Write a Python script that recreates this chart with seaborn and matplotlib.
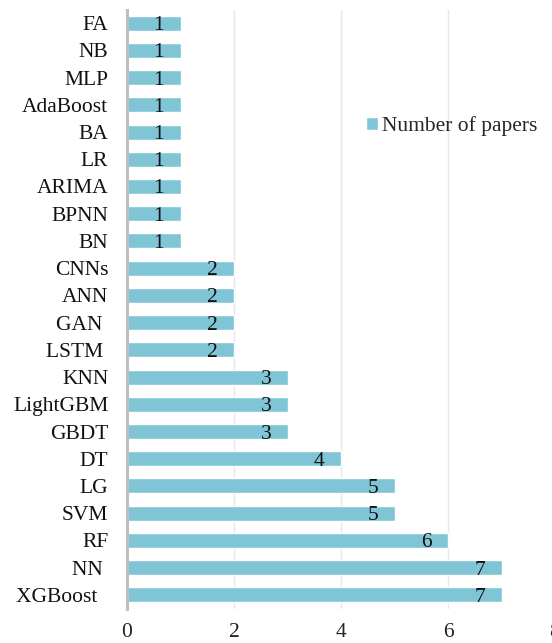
import matplotlib
matplotlib.use("Agg")
import matplotlib.pyplot as plt
import seaborn as sns
import pandas as pd

models = ["FA", "NB", "MLP", "AdaBoost", "BA", "LR", "ARIMA", "BPNN", "BN",
          "CNNs", "ANN", "GAN ", "LSTM ", "KNN", "LightGBM", "GBDT", "DT",
          "LG", "SVM", "RF", "NN ", "XGBoost  "]
papers = [1, 1, 1, 1, 1, 1, 1, 1, 1, 2, 2, 2, 2, 3, 3, 3, 4, 5, 5, 6, 7, 7]
xticks = [0, 2, 4, 6, 8]
series_name = "Number of papers"

df = pd.DataFrame({"model": models, "papers": papers, "series": series_name})

sns.set_theme(style="white")
plt.rcParams["font.family"] = ["Liberation Serif", "DejaVu Serif"]

FS = 15.5
W, H = 552, 643
fig = plt.figure(figsize=(W / 100, H / 100), dpi=100)
ax_left, ax_right = 127, 555
ax_top, ax_bot = 9.5, 608.5
ax = fig.add_axes([ax_left / W, 1 - ax_bot / H, (ax_right - ax_left) / W, (ax_bot - ax_top) / H])

color = "#80C5D6"
sns.barplot(data=df, y="model", x="papers", hue="series", palette=[color],
            saturation=1, orient="h", width=0.55, ax=ax, zorder=3, legend=True)

ax.set_xlim(0, 8)
ax.set_xticks(xticks)
ax.set_xticklabels([str(t) for t in xticks], fontsize=FS, color="#222222")
ax.tick_params(axis="x", length=0, pad=10.5)
ax.tick_params(axis="y", length=0, pad=13.5, labelsize=FS, labelcolor="#111111")
ax.set_xlabel("")
ax.set_ylabel("")
ax.grid(axis="x", color="#E8E8E8", linewidth=1, zorder=0)
ax.set_axisbelow(True)
for s in ["top", "right", "bottom"]:
    ax.spines[s].set_visible(False)
ax.spines["left"].set_color("#BFBFBF")
ax.spines["left"].set_linewidth(2.2)
ax.spines["left"].set_zorder(5)

for i, v in enumerate(papers):
    ax.annotate(str(v), xy=(v, i), xytext=(-15.5, 0), textcoords="offset points",
                ha="center", va="center_baseline", fontsize=FS, color="#111111", zorder=6)

leg = ax.legend(loc="center left", bbox_to_anchor=(366 / W, 1 - 126 / H),
                bbox_transform=fig.transFigure, frameon=False, fontsize=FS,
                handlelength=0.55, handleheight=0.55, handletextpad=0.2,
                borderpad=0, borderaxespad=0)

fig.savefig("out.png", dpi=100)
